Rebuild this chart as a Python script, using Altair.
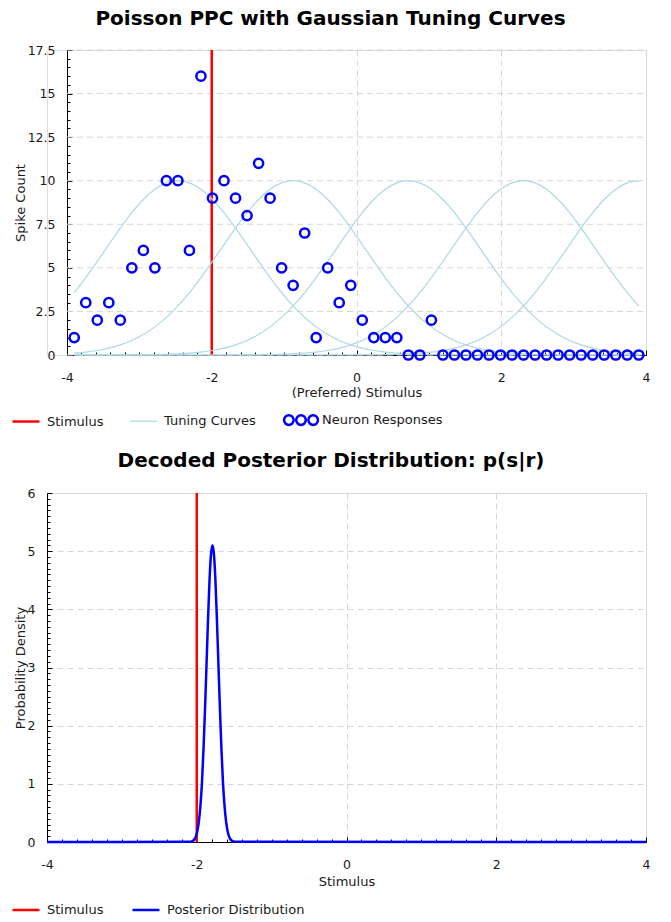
import altair as alt
import numpy as np
import pandas as pd

FONT = "DejaVu Sans"
TEXT = "#1a1a1a"
GRID = "#d6d6d6"

# ---------------- data ----------------
STIMULUS = -2.0
N_NEURONS = 50
PREF_MIN, PREF_MAX = -3.9, 3.9
NEURON_COUNTS = [1, 3, 2, 3, 2, 5, 6, 5, 10, 10,
                 6, 16, 9, 10, 9, 8, 11, 9, 5, 4,
                 7, 1, 5, 3, 4, 2, 1, 1, 1, 0,
                 0, 2, 0, 0, 0, 0, 0, 0, 0, 0,
                 0, 0, 0, 0, 0, 0, 0, 0, 0, 0]
# neurons whose tuning curve is drawn
TUNING_NEURONS = [9, 19, 29, 39, 49]
# tuning-curve height at 0, 1, 2, ... neuron spacings from its peak
TUNING_PROFILE = [10.0, 9.874, 9.506, 8.923, 8.165, 7.285, 6.337, 5.375, 4.445, 3.584,
                  2.817, 2.159, 1.613, 1.175, 0.835, 0.578, 0.390, 0.257, 0.165, 0.103,
                  0.063, 0.037, 0.022, 0.012, 0.007, 0.004]

POST_X = [-4.0,
          -2.09, -2.07, -2.05, -2.03, -2.01, -1.99, -1.97, -1.95, -1.93, -1.91,
          -1.89, -1.87, -1.85, -1.83, -1.81, -1.79, -1.77, -1.75, -1.73, -1.71,
          -1.69, -1.67, -1.65, -1.63, -1.61, -1.59, -1.57, -1.55, -1.53, -1.51,
          -1.49,
          4.0]
POST_DENSITY = [0.0,
                0.003, 0.009, 0.021, 0.047, 0.10, 0.20, 0.37, 0.64, 1.03, 1.59,
                2.27, 3.03, 3.80, 4.48, 4.94, 5.10, 4.94, 4.48, 3.80, 3.03,
                2.27, 1.59, 1.03, 0.64, 0.37, 0.20, 0.10, 0.047, 0.021, 0.009,
                0.003,
                0.0]

SERIES_TOP = ["Stimulus", "Tuning Curves", "Neuron Responses"]
COLORS_TOP = ["#ff0000", "#add8e6", "#0000ff"]
WIDTHS_TOP = [2.5, 1.2, 2.5]
SERIES_BOT = ["Stimulus", "Posterior Distribution"]
COLORS_BOT = ["#ff0000", "#0000ff"]

X_TICKS = [-4, -2, 0, 2, 4]
TOP_Y_TICKS = [0, 2.5, 5, 7.5, 10, 12.5, 15, 17.5]
BOT_Y_TICKS = [0, 1, 2, 3, 4, 5, 6]
X_MINOR = [round(-4 + 0.2 * i, 2) for i in range(41)]
TOP_Y_MINOR = [round(0.5 * i, 2) for i in range(36)]
BOT_Y_MINOR = [round(0.1 * i, 2) for i in range(61)]

# triple circle legend glyph (unit coordinates of a symbol)
_r = 0.355
TRIPLE = "".join(
    f"M{cx - _r:.3f},0A{_r},{_r} 0 1,0 {cx + _r:.3f},0A{_r},{_r} 0 1,0 {cx - _r:.3f},0Z"
    for cx in (-0.9, 0.0, 0.9)
)
SHAPES_TOP = ["stroke", "stroke", TRIPLE]

# ---------------- tables ----------------
pref = np.linspace(PREF_MIN, PREF_MAX, N_NEURONS)
neurons = pd.DataFrame({"x": pref, "count": NEURON_COUNTS, "series": "Neuron Responses"})
rows = []
for c in TUNING_NEURONS:
    for i in range(N_NEURONS):
        k = abs(i - c)
        rows.append({"x": float(pref[i]),
                     "rate": TUNING_PROFILE[k] if k < len(TUNING_PROFILE) else 0.0,
                     "curve": c, "series": "Tuning Curves"})
tuning = pd.DataFrame(rows)
stim = pd.DataFrame({"x": [STIMULUS], "series": ["Stimulus"]})
post = pd.DataFrame({"x": POST_X, "density": POST_DENSITY, "series": "Posterior Distribution"})
top_grid = pd.DataFrame({"v": TOP_Y_TICKS})
empty = pd.DataFrame({"x": pd.Series([], dtype=float), "y": pd.Series([], dtype=float),
                      "series": pd.Series([], dtype=str)})


# ---------------- helpers ----------------
def main_axis(orient, title, values, label_pad, title_pad, grid=True, offset=0):
    return alt.Axis(orient=orient, title=title, values=values, labelExpr="'' + datum.value",
                    grid=grid, gridColor=GRID, gridDash=[6, 4], gridWidth=1, offset=offset,
                    ticks=False, domain=True, domainColor="black", domainWidth=1,
                    labelFont=FONT, labelFontSize=12.5, labelColor=TEXT, labelPadding=label_pad,
                    labelFlush=False, labelOverlap=False,
                    titleFont=FONT, titleFontSize=13, titleFontWeight="normal",
                    titleColor=TEXT, titlePadding=title_pad)


def tick_axis(orient, values, size, shift=0):
    return alt.Axis(orient=orient, values=values, offset=-(size + shift), tickSize=size,
                    ticks=True, tickColor="black", tickWidth=1, labels=False, domain=False,
                    grid=False, title=None)


def legend(x, y, **extra):
    return alt.Legend(title=None, orient="none", legendX=x, legendY=y, direction="horizontal",
                      symbolSize=729, symbolFillColor="transparent", symbolOpacity=1,
                      labelFont=FONT, labelFontSize=13, labelColor=TEXT, labelOffset=6,
                      columnPadding=23, padding=0, **extra)


# ---------------- top chart ----------------
SHIFT = 20  # the top plot starts 20 px right of the lower one
xs_top = alt.Scale(domain=[-4, 4], nice=False, zero=False, range=[SHIFT, 599])
ys_top = alt.Scale(domain=[0, 17.5], nice=False, zero=False)
color_top = alt.Scale(domain=SERIES_TOP, range=COLORS_TOP)
leg_top = legend(-36, 355)

grid_top = alt.Chart(top_grid).mark_rule(color=GRID, strokeDash=[6, 4], strokeWidth=1).encode(
    x=alt.XDatum(-4, type="quantitative", scale=xs_top, axis=None),
    x2=alt.X2Datum(4),
    y=alt.Y("v:Q", scale=ys_top, axis=None),
)
stim_top = alt.Chart(stim).mark_rule(strokeWidth=2.5).encode(
    x=alt.X("x:Q", scale=xs_top, axis=None),
    color=alt.Color("series:N", scale=color_top, legend=leg_top),
)
tuning_layer = alt.Chart(tuning).mark_line(strokeWidth=1.2, interpolate="monotone").encode(
    x=alt.X("x:Q", scale=xs_top, axis=main_axis("bottom", "(Preferred) Stimulus", X_TICKS, 16, 3)),
    y=alt.Y("rate:Q", scale=ys_top,
            axis=main_axis("left", "Spike Count", TOP_Y_TICKS, 12, 0, grid=False, offset=-SHIFT)),
    color=alt.Color("series:N", scale=color_top, legend=leg_top),
    detail="curve:N",
)
points_layer = alt.Chart(neurons).mark_point(
    filled=False, size=85, strokeWidth=2.5, opacity=1, shape="circle"
).encode(
    x=alt.X("x:Q", scale=xs_top, axis=tick_axis("bottom", X_TICKS, 5)),
    y=alt.Y("count:Q", scale=ys_top, axis=tick_axis("left", TOP_Y_TICKS, 5, SHIFT)),
    color=alt.Color("series:N", scale=color_top, legend=leg_top),
)
legend_top_layer = alt.Chart(empty).mark_point(filled=False, opacity=1).encode(
    x=alt.X("x:Q", scale=xs_top, axis=tick_axis("bottom", X_MINOR, 3)),
    y=alt.Y("y:Q", scale=ys_top, axis=tick_axis("left", TOP_Y_MINOR, 3, SHIFT)),
    color=alt.Color("series:N", scale=color_top, legend=leg_top),
    shape=alt.Shape("series:N", scale=alt.Scale(domain=SERIES_TOP, range=SHAPES_TOP), legend=leg_top),
    strokeWidth=alt.StrokeWidth("series:N",
                                scale=alt.Scale(type="ordinal", domain=SERIES_TOP, range=WIDTHS_TOP),
                                legend=leg_top),
)

top = alt.layer(grid_top, stim_top, tuning_layer, points_layer, legend_top_layer).resolve_axis(
    x="independent", y="independent"
).properties(
    width=599, height=305,
    title=alt.TitleParams("Poisson PPC with Gaussian Tuning Curves", font=FONT, fontSize=20,
                          fontWeight="bold", color="black", anchor="middle", frame="bounds",
                          offset=15),
)

# ---------------- bottom chart ----------------
xs_bot = alt.Scale(domain=[-4, 4], nice=False, zero=False)
ys_bot = alt.Scale(domain=[0, 6], nice=False, zero=False)
color_bot = alt.Scale(domain=SERIES_BOT, range=COLORS_BOT)
leg_bot = legend(-36, 402, symbolType="stroke", symbolStrokeWidth=2.5)

stim_bot = alt.Chart(stim).mark_rule(strokeWidth=2.5).encode(
    x=alt.X("x:Q", scale=xs_bot, axis=tick_axis("bottom", X_TICKS, 5)),
    color=alt.Color("series:N", scale=color_bot, legend=leg_bot),
)
post_layer = alt.Chart(post).mark_line(strokeWidth=2.5, interpolate="monotone").encode(
    x=alt.X("x:Q", scale=xs_bot, axis=main_axis("bottom", "Stimulus", X_TICKS, 16, 5)),
    y=alt.Y("density:Q", scale=ys_bot, axis=main_axis("left", "Probability Density", BOT_Y_TICKS, 12, 0)),
    color=alt.Color("series:N", scale=color_bot, legend=leg_bot),
)
ticks_a = alt.Chart(empty).mark_point().encode(
    x=alt.X("x:Q", scale=xs_bot, axis=tick_axis("bottom", X_MINOR, 3)),
    y=alt.Y("y:Q", scale=ys_bot, axis=tick_axis("left", BOT_Y_TICKS, 5)),
)
ticks_b = alt.Chart(empty).mark_point().encode(
    x=alt.X("x:Q", scale=xs_bot, axis=None),
    y=alt.Y("y:Q", scale=ys_bot, axis=tick_axis("left", BOT_Y_MINOR, 3)),
)

bottom = alt.layer(stim_bot, post_layer, ticks_a, ticks_b).resolve_axis(
    x="independent", y="independent"
).properties(
    width=599, height=349,
    title=alt.TitleParams("Decoded Posterior Distribution: p(s|r)", font=FONT, fontSize=20,
                          fontWeight="bold", color="black", anchor="middle", frame="bounds",
                          offset=16),
)

chart = alt.vconcat(top, bottom, spacing=19).resolve_scale(
    color="independent", shape="independent", strokeWidth="independent",
    x="independent", y="independent"
).resolve_legend(color="independent", shape="independent", strokeWidth="independent").properties(
    padding={"left": 2, "top": 0, "right": 5, "bottom": 0}
).configure_view(stroke=None).configure(background="white")

chart.save("out.html", embed_options={"renderer": "svg", "actions": False})
